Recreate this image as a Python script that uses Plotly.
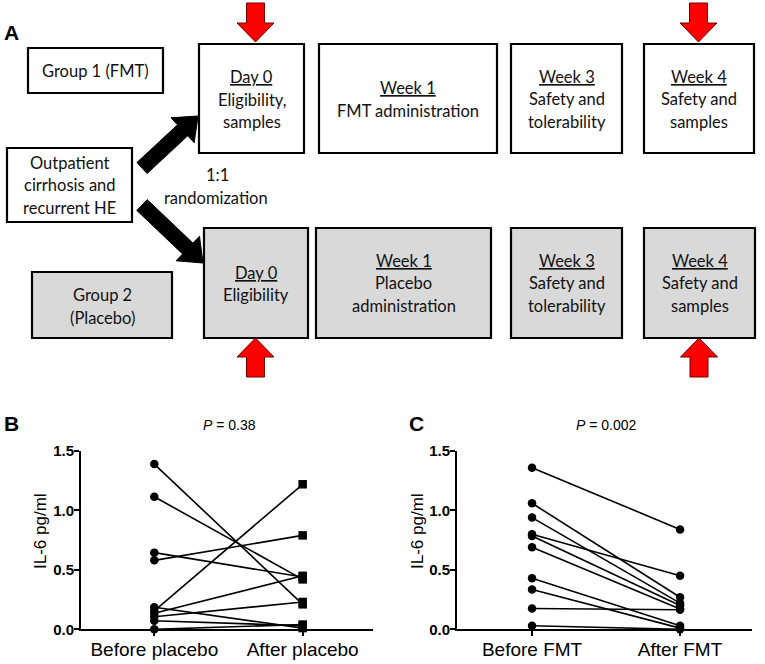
import plotly.graph_objects as go
import math

# ---------------- data ----------------
placebo_labels = ["Before placebo", "After placebo"]
placebo_before = [1.39, 1.115, 0.645, 0.58, 0.185, 0.155, 0.135, 0.105, 0.072, 0.0]
placebo_after = [0.21, 0.42, 0.44, 0.79, 0.01, 1.22, 0.45, 0.23, 0.03, 0.04]

fmt_labels = ["Before FMT", "After FMT"]
fmt_before = [1.36, 1.06, 0.94, 0.80, 0.785, 0.69, 0.43, 0.335, 0.175, 0.03]
fmt_after = [0.84, 0.27, 0.22, 0.45, 0.20, 0.17, 0.03, 0.01, 0.165, 0.0]

y_ticks = [0.0, 0.5, 1.0, 1.5]
p_placebo = "<i>P</i> = 0.38"
p_fmt = "<i>P</i> = 0.002"

W, H = 765, 664

fig = go.Figure()

# diagram canvas axis (pixel coordinates)
fig.add_trace(go.Scatter(x=[0, W], y=[0, H], mode="markers", marker=dict(opacity=0),
                         xaxis="x3", yaxis="y3", hoverinfo="skip", showlegend=False))

# paired lines
def add_pairs(before, after, xa, ya, after_symbol):
    for b, a in zip(before, after):
        fig.add_trace(go.Scatter(x=[0, 1], y=[b, a], mode="lines", xaxis=xa, yaxis=ya,
                                 line=dict(color="black", width=1.6), showlegend=False,
                                 hoverinfo="skip", cliponaxis=False))
    fig.add_trace(go.Scatter(x=[0] * len(before), y=before, mode="markers", xaxis=xa, yaxis=ya,
                             marker=dict(symbol="circle", size=8.5, color="black"),
                             showlegend=False, cliponaxis=False))
    fig.add_trace(go.Scatter(x=[1] * len(after), y=after, mode="markers", xaxis=xa, yaxis=ya,
                             marker=dict(symbol=after_symbol, size=8.5, color="black"),
                             showlegend=False, cliponaxis=False))

add_pairs(placebo_before, placebo_after, "x", "y", "square")
add_pairs(fmt_before, fmt_after, "x2", "y2", "circle")

shapes = []
annotations = []

def box(x0, y0, x1, y1, fill):
    shapes.append(dict(type="rect", xref="x3", yref="y3", x0=x0, y0=y0, x1=x1, y1=y1,
                       line=dict(color="black", width=2.2), fillcolor=fill, layer="below"))

BOXFONT = "Lato, 'Open Sans', sans-serif"
ARIAL = "Arial, 'Liberation Sans', sans-serif"

def txt(s, x, y, size=16.5, family=BOXFONT, color="#111", xanchor="center"):
    annotations.append(dict(text=s, x=x, y=y, xref="x3", yref="y3", showarrow=False,
                            xanchor=xanchor, yanchor="middle",
                            font=dict(size=size, family=family, color=color)))

WHITE, GRAY = "white", "#d9d9d9"
# top row
box(28, 48, 163, 93, WHITE)
box(199, 44, 304, 153, WHITE)
box(319, 44, 497, 153, WHITE)
box(511, 44, 622, 153, WHITE)
box(644, 44, 754, 153, WHITE)
box(7, 148, 132, 222, WHITE)
# bottom row
box(32, 272, 172, 338, GRAY)
box(204, 228, 308, 338, GRAY)
box(316, 228, 491, 338, GRAY)
box(511, 228, 622, 338, GRAY)
box(644, 228, 755, 338, GRAY)

txt("Group 1 (FMT)", 95.5, 71)
txt("<u>Day 0</u>", 251.5, 77); txt("Eligibility,", 251.5, 100); txt("samples", 251.5, 122)
txt("<u>Week 1</u>", 408, 88); txt("FMT administration", 408, 111)
txt("<u>Week 3</u>", 566.5, 77); txt("Safety and", 566.5, 99); txt("tolerability", 566.5, 122)
txt("<u>Week 4</u>", 699, 77); txt("Safety and", 699, 99); txt("samples", 699, 122)
txt("Outpatient", 69.5, 163); txt("cirrhosis and", 69.5, 185); txt("recurrent HE", 69.5, 208)
txt("1:1", 217, 175); txt("randomization", 216, 198)
txt("Group 2", 102, 295); txt("(Placebo)", 102, 318)
txt("<u>Day 0</u>", 256, 273); txt("Eligibility", 256, 295)
txt("<u>Week 1</u>", 403.5, 261); txt("Placebo", 403.5, 283); txt("administration", 403.5, 306)
txt("<u>Week 3</u>", 566.5, 261); txt("Safety and", 566.5, 283); txt("tolerability", 566.5, 306)
txt("<u>Week 4</u>", 699.5, 261); txt("Safety and", 699.5, 283); txt("samples", 699.5, 306)

# panel letters
txt("<b>A</b>", 2, 32, size=21, family=ARIAL, color="black", xanchor="left")
txt("<b>B</b>", 2, 423, size=21, family=ARIAL, color="black", xanchor="left")
txt("<b>C</b>", 407, 423, size=21, family=ARIAL, color="black", xanchor="left")
txt(p_placebo, 229, 425, size=14, family=ARIAL, color="black")
txt(p_fmt, 606, 425, size=14, family=ARIAL, color="black")
# y titles
for xc in (40, 417):
    annotations.append(dict(text="IL-6 pg/ml", x=xc, y=531, xref="x3", yref="y3", showarrow=False,
                            textangle=-90, xanchor="center", yanchor="middle",
                            font=dict(size=17, family=ARIAL, color="black")))

# red arrows
def red_arrow(cx, y_base, y_head, y_tip):
    sw, hw = 9, 18.5
    p = (f"M {cx-sw},{y_base} L {cx+sw},{y_base} L {cx+sw},{y_head} L {cx+hw},{y_head} "
         f"L {cx},{y_tip} L {cx-hw},{y_head} L {cx-sw},{y_head} Z")
    shapes.append(dict(type="path", path=p, xref="x3", yref="y3", fillcolor="#ff0000",
                       line=dict(color="#6b0000", width=1)))

red_arrow(255.5, 3, 23, 42)
red_arrow(698.5, 3, 23, 42)
red_arrow(255.5, 377, 357, 338)
red_arrow(699, 377, 357, 338)

# black arrows
def black_arrow(tx, ty, px, py, sw=7.5, hw=17, hl=21):
    dx, dy = px - tx, py - ty
    L = math.hypot(dx, dy)
    ux, uy = dx / L, dy / L
    nx, ny = -uy, ux
    bx, by = px - ux * hl, py - uy * hl
    pts = [(tx + nx * sw, ty + ny * sw), (bx + nx * sw, by + ny * sw), (bx + nx * hw, by + ny * hw),
           (px, py), (bx - nx * hw, by - ny * hw), (bx - nx * sw, by - ny * sw), (tx - nx * sw, ty - ny * sw)]
    p = "M " + " L ".join(f"{a:.1f},{b:.1f}" for a, b in pts) + " Z"
    shapes.append(dict(type="path", path=p, xref="x3", yref="y3", fillcolor="black",
                       line=dict(color="black", width=1)))

black_arrow(142, 168, 198, 116)
black_arrow(142, 205, 203, 263)

axis_font = dict(family=ARIAL, color="black")

def px_x(v):
    return v / W

def px_y(v):
    return 1 - v / H

ydom = [px_y(629.3), px_y(451)]
common_x = dict(showline=True, linewidth=2, linecolor="black", ticks="outside", ticklen=5, tickwidth=2,
                tickcolor="black", showgrid=False, zeroline=False, tickvals=[0, 1],
                ticklabelstandoff=-3, tickfont=dict(size=19, **axis_font))
common_y = dict(showline=True, linewidth=2, linecolor="black", ticks="outside", ticklen=5, tickwidth=2,
                tickcolor="black", showgrid=False, zeroline=False, range=[0, 1.5], tickvals=y_ticks,
                ticklabelstandoff=-3,
                ticktext=[f"<b>{v:.1f}</b>" for v in y_ticks], tickfont=dict(size=15, **axis_font))

fig.update_layout(
    width=W, height=H, margin=dict(l=0, r=0, t=0, b=0, autoexpand=False),
    paper_bgcolor="white", plot_bgcolor="rgba(0,0,0,0)",
    xaxis=dict(domain=[px_x(81), px_x(373)], range=[-0.494, 1.474], anchor="y",
               ticktext=placebo_labels, automargin=False, **common_x),
    yaxis=dict(domain=ydom, anchor="x", automargin=False, **common_y),
    xaxis2=dict(domain=[px_x(457), px_x(752)], range=[-0.507, 1.486], anchor="y2",
                ticktext=fmt_labels, automargin=False, **common_x),
    yaxis2=dict(domain=ydom, anchor="x2", automargin=False, **common_y),
    xaxis3=dict(domain=[0, 1], range=[0, W], visible=False, anchor="y3", fixedrange=True, automargin=False),
    yaxis3=dict(domain=[0, 1], range=[H, 0], visible=False, anchor="x3", fixedrange=True, automargin=False),
    shapes=shapes, annotations=annotations, showlegend=False,
)

fig.write_html("out.html", config={"displayModeBar": False},
               post_script="document.body.style.margin='0';document.body.style.overflow='hidden';")
